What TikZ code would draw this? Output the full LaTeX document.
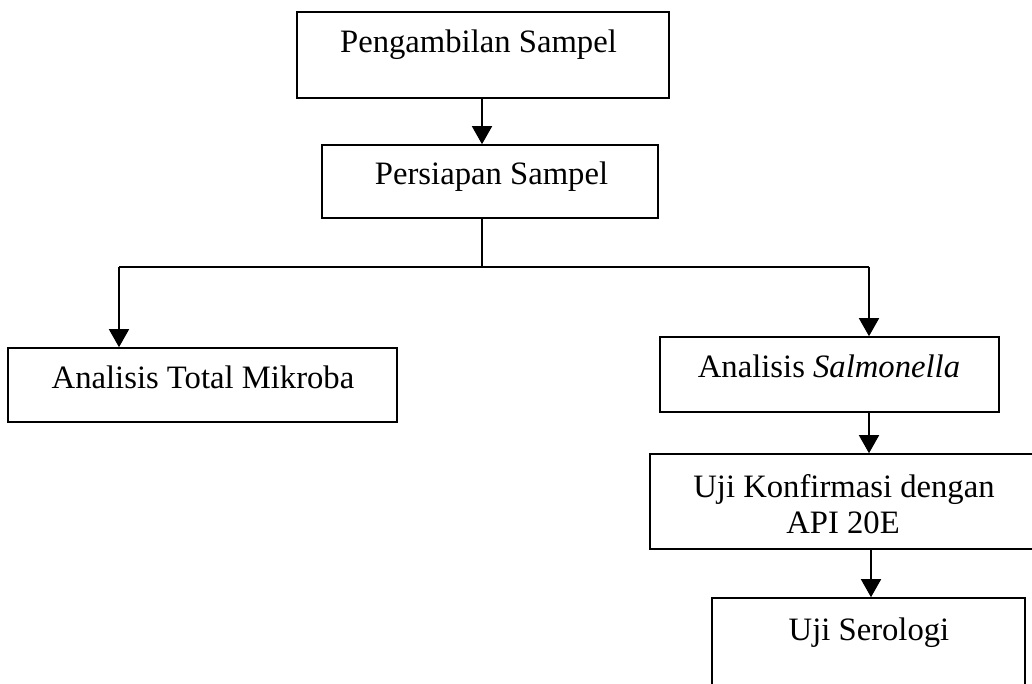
\documentclass[tikz,border=0pt]{standalone}
\usepackage{fontspec}
\setmainfont{Liberation Serif}
\usetikzlibrary{arrows.meta}
\begin{document}
\begin{tikzpicture}[x=0.75pt,y=-0.75pt,
  box/.style={draw=black,line width=1.2pt,rectangle,inner sep=0pt},
  lbl/.style={anchor=base,inner sep=0pt,font=\fontsize{24.5}{28}\selectfont},
  conn/.style={draw=black,line width=1.2pt},
  arr/.style={conn,-{Triangle[width=15pt,length=13.5pt]}}]
\clip (0,0) rectangle (1032,684);
\useasboundingbox (0,0) rectangle (1032,684);
% boxes
\node[box,minimum width=279pt,minimum height=64.5pt] (b1) at (483,55) {};
\node[box,minimum width=252pt,minimum height=54.75pt] (b2) at (490,181.5) {};
\node[box,minimum width=291.75pt,minimum height=55.5pt] (b3) at (202.5,385) {};
\node[box,minimum width=254.25pt,minimum height=56.25pt] (b4) at (829.5,374.5) {};
\node[box,minimum width=296.25pt,minimum height=71.25pt] (b5) at (847.5,501.5) {};
\node[box,minimum width=234.75pt,minimum height=76.5pt] (b6) at (868.5,649) {};
% labels
\node[lbl] (t1) at (478.5,53) {Pengambilan Sampel};
\node[lbl] (t2) at (491.5,185) {Persiapan Sampel};
\node[lbl] (t3) at (203,388) {Analisis Total Mikroba};
\node[lbl] (t4) at (829,378) {Analisis \textit{Salmonella}};
\node[lbl] (t5a) at (844,497) {Uji Konfirmasi dengan};
\node[lbl] (t5b) at (843,533) {API 20E};
\node[lbl] (t6) at (869,640) {Uji Serologi};
% connectors
\coordinate (j) at (482,267);
\coordinate (l) at (119,267);
\coordinate (r) at (869,267);
\coordinate (s) at (871,600);
\draw[arr] (b1.south -| j) -- (b2.north -| j);
\draw[conn] (b2.south -| j) -- (j);
\draw[conn] (l) -- (r);
\draw[arr] (l) -- (l |- b3.north);
\draw[arr] (r) -- (r |- b4.north);
\draw[arr] (r |- b4.south) -- (r |- b5.north);
\draw[arr] (s |- b5.south) -- (s |- b6.north);
\end{tikzpicture}
\end{document}
